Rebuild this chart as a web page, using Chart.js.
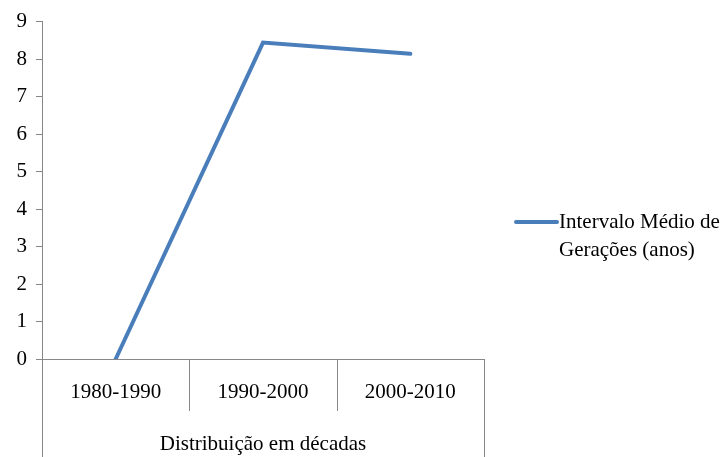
<!DOCTYPE html>
<html>
<head>
<meta charset="utf-8">
<script src="https://cdn.jsdelivr.net/npm/chart.js@4/dist/chart.umd.min.js"></script>
<style>
  html, body { margin: 0; padding: 0; background: #ffffff; }
  #wrap { width: 722px; height: 457px; }
</style>
</head>
<body>
<div id="wrap"><canvas id="c" width="722" height="457"></canvas></div>
<script>
// Decades on the horizontal axis
const decades = ['1980-1990', '1990-2000', '2000-2010'];
// Mean generation interval (years) per decade
const meanInterval = [0, 8.44, 8.14];
// Vertical axis ticks
const yTicks = [0, 1, 2, 3, 4, 5, 6, 7, 8, 9];
const seriesName = ['Intervalo Médio de', 'Gerações (anos)'];
const xTitle = 'Distribuição em décadas';

const FONT = "'Liberation Serif', 'Times New Roman', serif";
const AXIS = '#878787';
const LINE = '#4a7ebb';

// Category separators, outer frame lines and the side legend
const decor = {
  id: 'decor',
  afterDraw(chart) {
    const ctx = chart.ctx;
    const x = chart.scales.x;
    const y0 = chart.scales.y.getPixelForValue(0);
    ctx.save();
    ctx.strokeStyle = AXIS;
    ctx.lineWidth = 1;
    const n = decades.length;
    for (let i = 0; i <= n; i++) {
      const px = Math.round(x.getPixelForValue(i - 0.5)) + 0.5;
      const end = (i === 0 || i === n) ? chart.height : y0 + 52;
      ctx.beginPath();
      ctx.moveTo(px, y0);
      ctx.lineTo(px, end);
      ctx.stroke();
    }
    // legend
    const ly = 222;
    ctx.strokeStyle = LINE;
    ctx.lineWidth = 4;
    ctx.lineCap = 'round';
    ctx.beginPath();
    ctx.moveTo(516, ly);
    ctx.lineTo(557, ly);
    ctx.stroke();
    ctx.fillStyle = '#000000';
    ctx.font = '21px ' + FONT;
    ctx.textBaseline = 'middle';
    ctx.textAlign = 'left';
    ctx.fillText(seriesName[0], 559, ly);
    ctx.fillText(seriesName[1], 559, ly + 28);
    ctx.restore();
  }
};

new Chart(document.getElementById('c'), {
  type: 'line',
  data: {
    labels: decades,
    datasets: [{
      label: seriesName.join(' '),
      data: meanInterval,
      borderColor: LINE,
      borderWidth: 4,
      pointRadius: 0,
      tension: 0,
      borderCapStyle: 'round',
      borderJoinStyle: 'miter'
    }]
  },
  options: {
    responsive: false,
    animation: false,
    layout: { padding: { top: 18, right: 238, left: 0, bottom: 0 } },
    plugins: { legend: { display: false }, tooltip: { enabled: false } },
    scales: {
      x: {
        offset: true,
        grid: { display: false, drawTicks: false },
        border: { display: true, color: AXIS, width: 1 },
        ticks: { color: '#000000', font: { family: FONT, size: 21 }, padding: 21, maxRotation: 0 },
        title: { display: true, text: xTitle, color: '#000000', font: { family: FONT, size: 21 }, padding: { top: 0, bottom: 0 } },
        afterFit(s) { s.height = 98; }
      },
      y: {
        min: 0,
        max: 9,
        afterBuildTicks(s) { s.ticks = yTicks.map(v => ({ value: v })); },
        grid: { drawOnChartArea: false, drawTicks: true, tickLength: 6, color: AXIS },
        border: { display: true, color: AXIS, width: 1 },
        ticks: { color: '#000000', font: { family: FONT, size: 21 }, padding: 9 },
        afterFit(s) { s.width = 42; }
      }
    }
  },
  plugins: [decor]
});
</script>
</body>
</html>
